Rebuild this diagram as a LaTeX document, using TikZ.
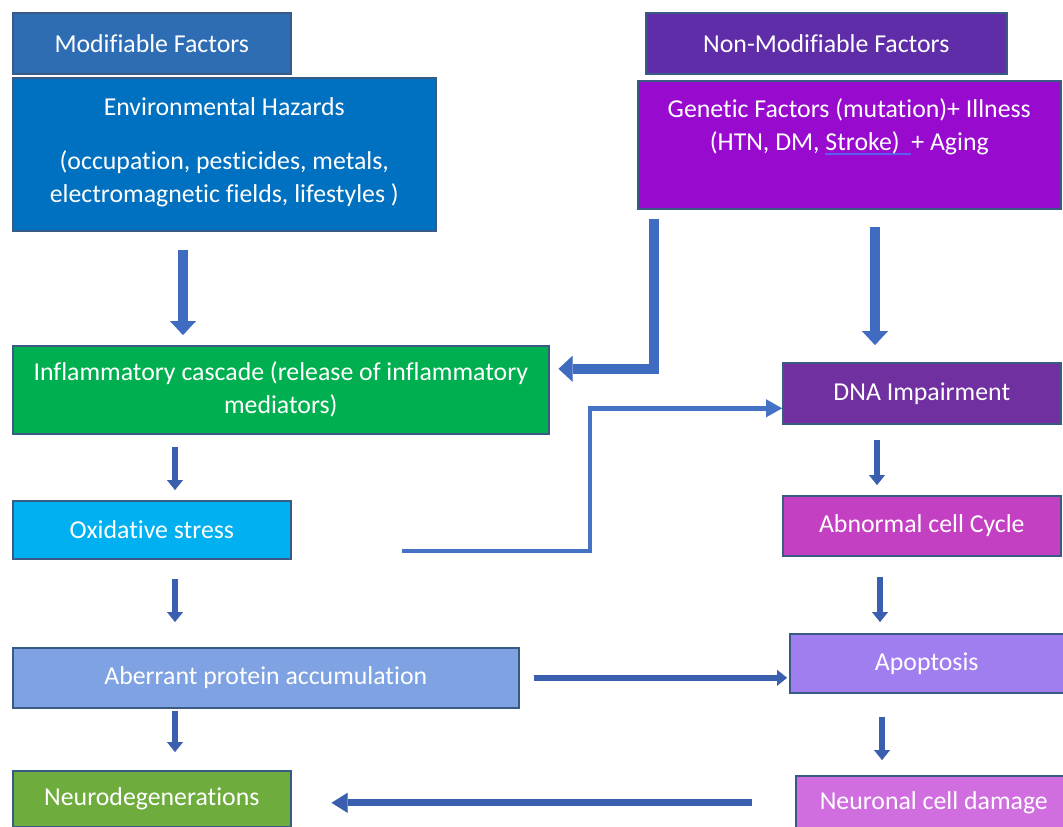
\documentclass[tikz,border=0pt]{standalone}
\usepackage{fontspec}
\setmainfont{Carlito}[Ligatures=NoCommon]
\usetikzlibrary{arrows.meta}

% box fills
\definecolor{modblue}{HTML}{2E6DB4}
\definecolor{envblue}{HTML}{0070C0}
\definecolor{nonmod}{HTML}{5F2DA8}
\definecolor{genetic}{HTML}{980ACD}
\definecolor{inflgreen}{HTML}{00B050}
\definecolor{oxcyan}{HTML}{00B0F0}
\definecolor{aberblue}{HTML}{7FA2E3}
\definecolor{neurogreen}{HTML}{6EAC3E}
\definecolor{dnapurple}{HTML}{7030A0}
\definecolor{abnmagenta}{HTML}{C440C2}
\definecolor{apoplilac}{HTML}{A07EF0}
\definecolor{neurpink}{HTML}{D06EE0}
% lines
\definecolor{boxline}{HTML}{3A5A86}
\definecolor{arrowblue}{HTML}{3F6BC0}
\definecolor{arrowdark}{HTML}{3A5FAE}
\definecolor{linkblue}{HTML}{4472C4}
\definecolor{ulblue}{HTML}{5C5CF2}

% blue underline drawn under a piece of text
\newsavebox\ulbox
\newcommand\blueul[1]{\sbox\ulbox{#1}\rlap{\color{ulblue}\rule[-4.5pt]{\wd\ulbox}{1.8pt}}\usebox\ulbox}

\tikzset{
  box/.style={draw=boxline, line width=1.6pt, text=white, align=center,
    anchor=north west, inner sep=0pt, font=\fontsize{25.8}{33}\selectfont},
  bigarrow/.style={draw=arrowblue, line width=10pt,
    -{Triangle[width=26pt,length=14pt,line width=0.1pt]}},
  smallarrow/.style={draw=arrowdark, line width=6pt,
    -{Triangle[width=16pt,length=10pt,line width=0.1pt]}},
  midarrow/.style={draw=arrowdark, line width=7pt,
    -{Triangle[width=20pt,length=16pt,line width=0.1pt]}},
  linkarrow/.style={draw=linkblue, line width=4.5pt,
    -{Triangle[width=18pt,length=16pt,line width=0.1pt]}},
}

\begin{document}
\begin{tikzpicture}[x=1pt,y=-1pt]
\useasboundingbox (0,0) rectangle (1063,827);
\clip (0,0) rectangle (1063,827);
\fill[white] (0,0) rectangle (1063,827);

% left column
\node[box, fill=modblue, minimum width=278pt, minimum height=61pt] (mod) at (12,12) {Modifiable Factors};
\node[box, fill=envblue, minimum width=423pt, minimum height=153pt] (env) at (12,77)
  {Environmental Hazards\\[21pt](occupation, pesticides, metals,\\electromagnetic fields, lifestyles )\\[-24pt]\mbox{}};
\node[box, fill=inflgreen, minimum width=536pt, minimum height=88pt] (infl) at (12,345)
  {Inflammatory cascade (release of inflammatory\\mediators)};
\node[box, fill=oxcyan, minimum width=278pt, minimum height=58pt] (oxid) at (12,500) {Oxidative stress};
\node[box, fill=aberblue, minimum width=506pt, minimum height=60pt] (aber) at (12,647) {Aberrant protein accumulation};
\node[box, fill=neurogreen, minimum width=278pt, minimum height=56pt] (neuro) at (12,770) {Neurodegenerations};

% right column
\node[box, fill=nonmod, minimum width=361pt, minimum height=61pt] (nonmod) at (645,12) {Non-Modifiable Factors};
\node[box, fill=genetic, minimum width=423pt, minimum height=128pt] (gen) at (637,80)
  {Genetic Factors (mutation)+ Illness\\(HTN, DM, \blueul{Stroke)\ \ }+ Aging\\[8pt]\mbox{}};
\node[box, fill=dnapurple, minimum width=278pt, minimum height=61pt] (dna) at (782,362) {DNA Impairment};
\node[box, fill=abnmagenta, minimum width=278pt, minimum height=60pt] (abn) at (782,495) {Abnormal cell Cycle};
\node[box, fill=apoplilac, minimum width=274pt, minimum height=59pt] (apop) at (789,633) {Apoptosis};
\node[box, fill=neurpink, minimum width=276pt, minimum height=54pt] (neur) at (795,775) {Neuronal cell damage};

% arrow columns
\coordinate (colEnv) at (183,0);
\coordinate (colL) at (175,0);
\coordinate (colGen) at (654,0);
\coordinate (colDNA) at (875,0);
\coordinate (colR1) at (877,0);
\coordinate (colR2) at (880,0);
\coordinate (colR3) at (882,0);
\coordinate (bendX) at (590,0);

% connectors
\draw[bigarrow, shorten <=18pt, shorten >=10pt] (colEnv |- env.south) -- (colEnv |- infl.north);
\draw[bigarrow, shorten <=9pt, shorten >=9pt]
  (colGen |- gen.south) |- ([yshift=21pt]infl.east);
\draw[bigarrow, shorten <=17pt, shorten >=17pt] (colDNA |- gen.south) -- (colDNA |- dna.north);

\draw[smallarrow, shorten <=12pt, shorten >=10pt] (colL |- infl.south) -- (colL |- oxid.north);
\draw[smallarrow, shorten <=19pt, shorten >=25pt] (colL |- oxid.south) -- (colL |- aber.north);
\draw[smallarrow, shorten <=2pt, shorten >=18pt] (colL |- aber.south) -- (colL |- neuro.north);

\draw[smallarrow, shorten <=15pt, shorten >=10pt] (colR1 |- dna.south) -- (colR1 |- abn.north);
\draw[smallarrow, shorten <=20pt, shorten >=11pt] (colR2 |- abn.south) -- (colR2 |- apop.north);
\draw[smallarrow, shorten <=23pt, shorten >=15pt] (colR3 |- apop.south) -- (colR3 |- neur.north);

\draw[smallarrow, shorten <=14pt, shorten >=2pt] (aber.east) -- (aber.east -| apop.west);
\draw[midarrow, shorten <=43pt, shorten >=40pt] (neur.west) -- (neur.west -| neuro.east);

\coordinate (oxout) at ([xshift=110pt,yshift=-21pt]oxid.east);
\coordinate (dnain) at ([yshift=-15pt]dna.west);
\draw[linkarrow, line join=miter] (oxout) -- (oxout -| bendX) |- (dnain);
\end{tikzpicture}
\end{document}
